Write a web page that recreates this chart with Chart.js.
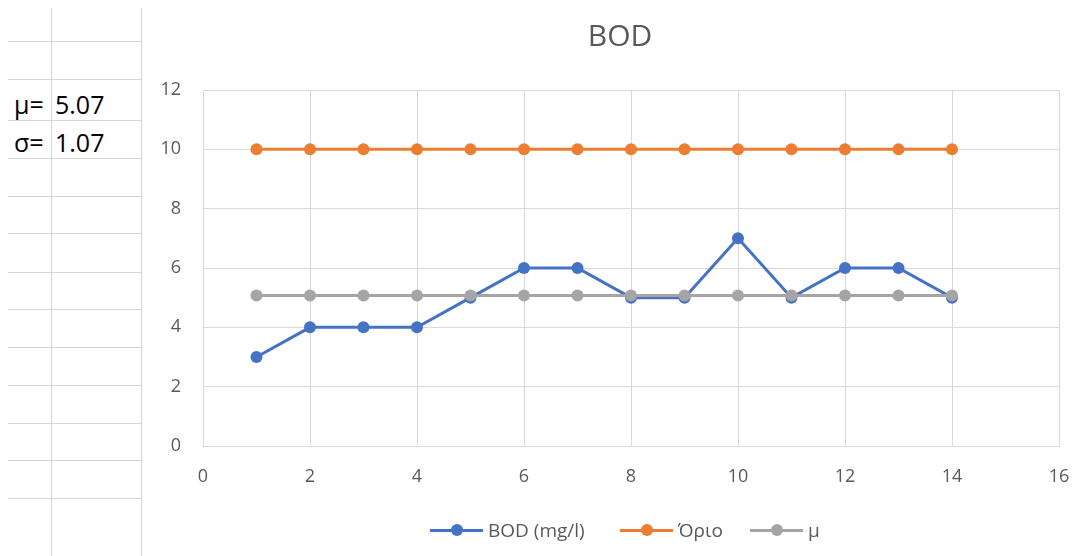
<!DOCTYPE html>
<html>
<head>
<meta charset="utf-8">
<script src="https://cdn.jsdelivr.net/npm/chart.js@4"></script>
<style>
  html, body { margin: 0; padding: 0; background: #fff; overflow: hidden; }
  body { width: 1074px; height: 556px; position: relative; font-family: "Open Sans", "Liberation Sans", sans-serif; }
  #sheet { position: absolute; left: 0; top: 0; width: 142px; height: 556px; }
  .hline { position: absolute; left: 8px; width: 133px; height: 0; border-top: 1px solid #d6d6d6; }
  .vline { position: absolute; top: 8px; bottom: 0; width: 0; border-left: 1px solid #d6d6d6; }
  .cell { position: absolute; font-size: 25px; color: #000; line-height: 30px; }
  #chartBox { position: absolute; left: 142px; top: 0; width: 956px; height: 556px; }
  #title { position: absolute; left: 0; top: 17px; width: 1240px; text-align: center;
           font-size: 30px; line-height: 36px; color: #595959; }
  #legend { position: absolute; left: 0; top: 518px; width: 1074px; height: 24px; }
  .item { position: absolute; top: 0; display: flex; align-items: center; height: 24px;
          font-size: 19px; color: #595959; white-space: nowrap; }
  .swatch { position: relative; width: 53px; height: 12px; margin-right: 5px; }
  .swatch .ln { position: absolute; left: 0; right: 0; top: 4.5px; height: 3px; }
  .swatch .dot { position: absolute; left: 21px; top: 0; width: 12px; height: 12px; border-radius: 50%; }
</style>
</head>
<body>
<div id="sheet"></div>
<div id="chartBox"><canvas id="bodChart" width="956" height="556"></canvas></div>
<div id="title">BOD</div>
<div id="legend"></div>

<script>
'use strict';

// sample number
const samples = [1, 2, 3, 4, 5, 6, 7, 8, 9, 10, 11, 12, 13, 14];
// measured BOD (mg/l)
const bodValues = [3, 4, 4, 4, 5, 6, 6, 5, 5, 7, 5, 6, 6, 5];
// limit value
const limitValues = [10, 10, 10, 10, 10, 10, 10, 10, 10, 10, 10, 10, 10, 10];
// mean line
const meanValues = [5.07, 5.07, 5.07, 5.07, 5.07, 5.07, 5.07, 5.07, 5.07, 5.07, 5.07, 5.07, 5.07, 5.07];

const seriesNames = ['BOD (mg/l)', 'Όριο', 'μ'];
const seriesColors = ['#4472C4', '#ED7D31', '#A5A5A5'];

const statLabels = ['μ=', 'σ='];
const statValues = ['5.07', '1.07'];

// spreadsheet cells on the left
var sheet = document.getElementById('sheet');
var rowLines = [41, 79, 120, 158, 196, 233, 272, 309, 347, 385, 423, 460, 498];
rowLines.forEach(function (y) {
    var d = document.createElement('div');
    d.className = 'hline';
    d.style.top = y + 'px';
    sheet.appendChild(d);
});
[51, 141].forEach(function (x) {
    var d = document.createElement('div');
    d.className = 'vline';
    d.style.left = x + 'px';
    sheet.appendChild(d);
});
statLabels.forEach(function (lbl, i) {
    var top = (i === 0 ? 89 : 127);
    var a = document.createElement('div');
    a.className = 'cell';
    a.style.left = '14px';
    a.style.top = top + 'px';
    a.textContent = lbl;
    sheet.appendChild(a);
    var b = document.createElement('div');
    b.className = 'cell';
    b.style.left = '55px';
    b.style.top = top + 'px';
    b.textContent = statValues[i];
    sheet.appendChild(b);
});

function toPoints(ys) {
    return samples.map(function (x, i) { return { x: x, y: ys[i] }; });
}

var seriesData = [bodValues, limitValues, meanValues];
var datasets = seriesData.map(function (ys, i) {
    return {
        label: seriesNames[i],
        data: toPoints(ys),
        showLine: true,
        borderColor: seriesColors[i],
        backgroundColor: seriesColors[i],
        borderWidth: 3,
        pointRadius: 6,
        pointHoverRadius: 6,
        pointBorderWidth: 0,
        order: 3 - i   // later series drawn on top
    };
});

var gridColor = '#D9D9D9';
var textColor = '#595959';
var fontFamily = '"Open Sans", "Liberation Sans", sans-serif';

var bodChart = new Chart(document.getElementById('bodChart'), {
    type: 'scatter',
    data: { datasets: datasets },
    options: {
        responsive: false,
        animation: false,
        events: [],
        layout: { padding: { left: 0, right: 39, top: 90, bottom: 0 } },
        plugins: {
            legend: { display: false },
            tooltip: { enabled: false }
        },
        scales: {
            x: {
                type: 'linear',
                min: 0,
                max: 16,
                ticks: {
                    stepSize: 2,
                    color: textColor,
                    padding: 20,
                    font: { family: fontFamily, size: 18 }
                },
                grid: { color: gridColor, drawTicks: false },
                border: { color: gridColor },
                afterFit: function (scale) { scale.height = 110; }
            },
            y: {
                min: 0,
                max: 12,
                ticks: {
                    stepSize: 2,
                    color: textColor,
                    padding: 22,
                    font: { family: fontFamily, size: 18 }
                },
                grid: { color: gridColor, drawTicks: false },
                border: { color: gridColor },
                afterFit: function (scale) { scale.width = 61; }
            }
        }
    }
});

// legend: line with marker, built from the chart's datasets
var legend = document.getElementById('legend');
var legendLeft = [430, 620, 750];
bodChart.data.datasets.forEach(function (ds, i) {
    var item = document.createElement('span');
    item.className = 'item';
    item.style.left = legendLeft[i] + 'px';
    var sw = document.createElement('span');
    sw.className = 'swatch';
    var ln = document.createElement('span');
    ln.className = 'ln';
    ln.style.background = ds.borderColor;
    var dot = document.createElement('span');
    dot.className = 'dot';
    dot.style.background = ds.backgroundColor;
    sw.appendChild(ln);
    sw.appendChild(dot);
    var txt = document.createElement('span');
    txt.textContent = ds.label;
    item.appendChild(sw);
    item.appendChild(txt);
    legend.appendChild(item);
});
</script>
</body>
</html>
